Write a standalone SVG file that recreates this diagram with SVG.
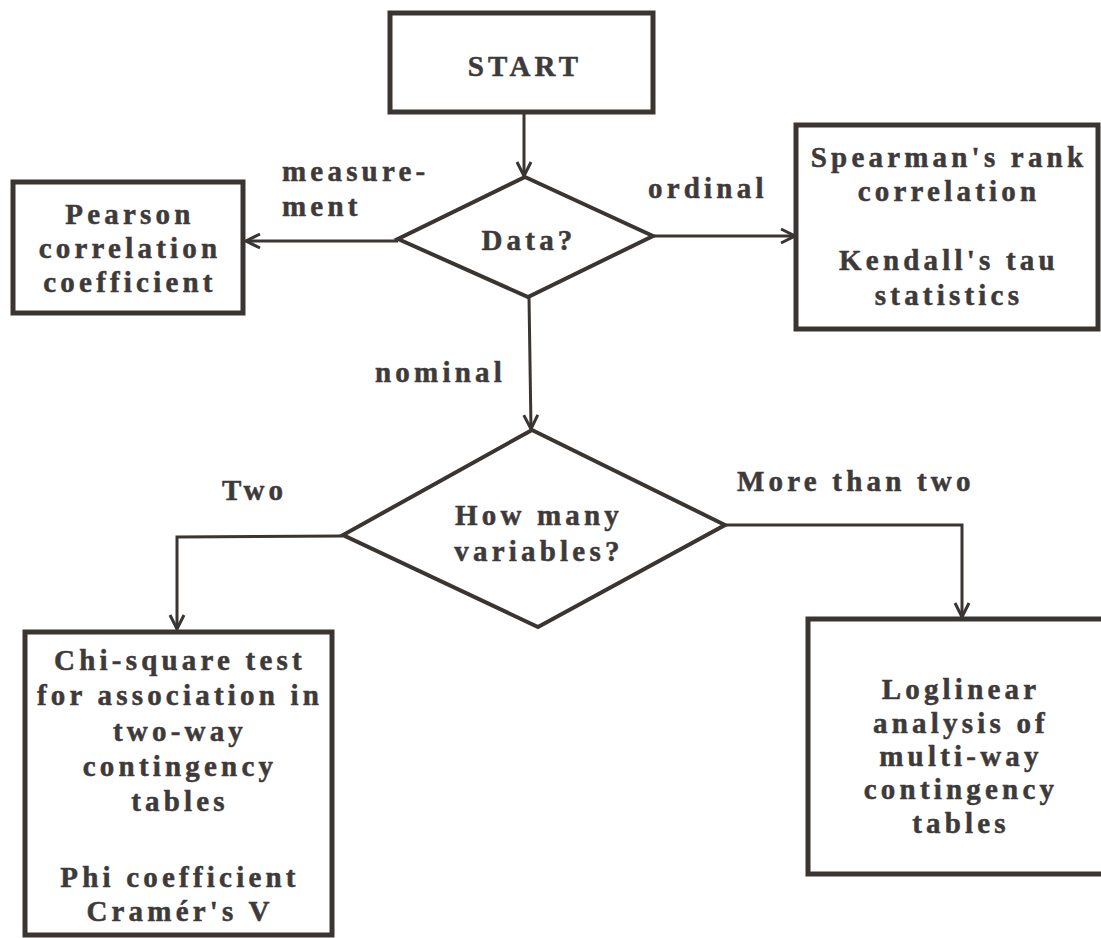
<svg xmlns="http://www.w3.org/2000/svg" width="1101" height="938" viewBox="0 0 1101 938">
<style>
  .box { fill: #ffffff; stroke: #3b3532; stroke-width: 5; }
  .dia { fill: #ffffff; stroke: #3b3532; stroke-width: 4; stroke-linejoin: miter; }
  .con { fill: none; stroke: #3b3532; stroke-width: 3; }
  text { font-family: "Liberation Serif", "Times New Roman", serif; font-weight: bold; font-size: 29px; fill: #3e3a39; stroke: #3e3a39; stroke-width: 0.5; letter-spacing: 4.2px; }
  .c { text-anchor: middle; }
</style>
<defs>
  <marker id="arr" markerUnits="userSpaceOnUse" markerWidth="22" markerHeight="22" viewBox="0 0 22 22" refX="19" refY="11" orient="auto">
    <path d="M5,4 L19,11 L5,18" fill="none" stroke="#3b3532" stroke-width="3"/>
  </marker>
</defs>
<rect width="1101" height="938" fill="#ffffff"/>

<g id="connectors">
  <line class="con" x1="524" y1="113" x2="524" y2="176" marker-end="url(#arr)"/>
  <line class="con" x1="398" y1="241" x2="246" y2="241" marker-end="url(#arr)"/>
  <line class="con" x1="653" y1="236" x2="795" y2="236" marker-end="url(#arr)"/>
  <line class="con" x1="529" y1="297" x2="531" y2="429" marker-end="url(#arr)"/>
  <polyline class="con" points="343,536 177,537 177,629" marker-end="url(#arr)"/>
  <polyline class="con" points="725,525 962,525 962,617" marker-end="url(#arr)"/>
</g>

<g id="start">
  <rect class="box" x="390" y="13" width="263" height="99"/>
  <text class="c" x="525" y="76" style="font-size:29px">START</text>
</g>

<g id="data">
  <polygon class="dia" points="525,177 653,236 528,297 398,239"/>
  <text class="c" x="529" y="250">Data?</text>
</g>

<g id="pearson">
  <rect class="box" x="13" y="182" width="230" height="131"/>
  <text class="c" x="130" y="224">Pearson</text>
  <text class="c" x="130" y="258">correlation</text>
  <text class="c" x="130" y="292">coefficient</text>
</g>

<g id="spearman">
  <rect class="box" x="796" y="125" width="302" height="204"/>
  <text class="c" x="949" y="167">Spearman's rank</text>
  <text class="c" x="949" y="201">correlation</text>
  <text class="c" x="949" y="270">Kendall's tau</text>
  <text class="c" x="949" y="305">statistics</text>
</g>

<g id="howmany">
  <polygon class="dia" points="532,430 725,525 538,627 343,535"/>
  <text class="c" x="539" y="525">How many</text>
  <text class="c" x="539" y="561">variables?</text>
</g>

<g id="chisquare">
  <rect class="box" x="25" y="632" width="307" height="303"/>
  <text class="c" x="180" y="670">Chi-square test</text>
  <text class="c" x="180" y="705">for association in</text>
  <text class="c" x="180" y="741">two-way</text>
  <text class="c" x="180" y="776">contingency</text>
  <text class="c" x="180" y="811">tables</text>
  <text class="c" x="180" y="887">Phi coefficient</text>
  <text class="c" x="180" y="921">Cramér's V</text>
</g>

<g id="loglinear">
  <rect class="box" x="808" y="619" width="300" height="255"/>
  <text class="c" x="961" y="699">Loglinear</text>
  <text class="c" x="961" y="733">analysis of</text>
  <text class="c" x="961" y="766">multi-way</text>
  <text class="c" x="961" y="799">contingency</text>
  <text class="c" x="961" y="833">tables</text>
</g>

<g id="labels">
  <text x="282" y="181">measure-</text>
  <text x="282" y="216">ment</text>
  <text x="648" y="198">ordinal</text>
  <text x="375" y="382">nominal</text>
  <text x="222" y="500">Two</text>
  <text x="737" y="491">More than two</text>
</g>
</svg>
